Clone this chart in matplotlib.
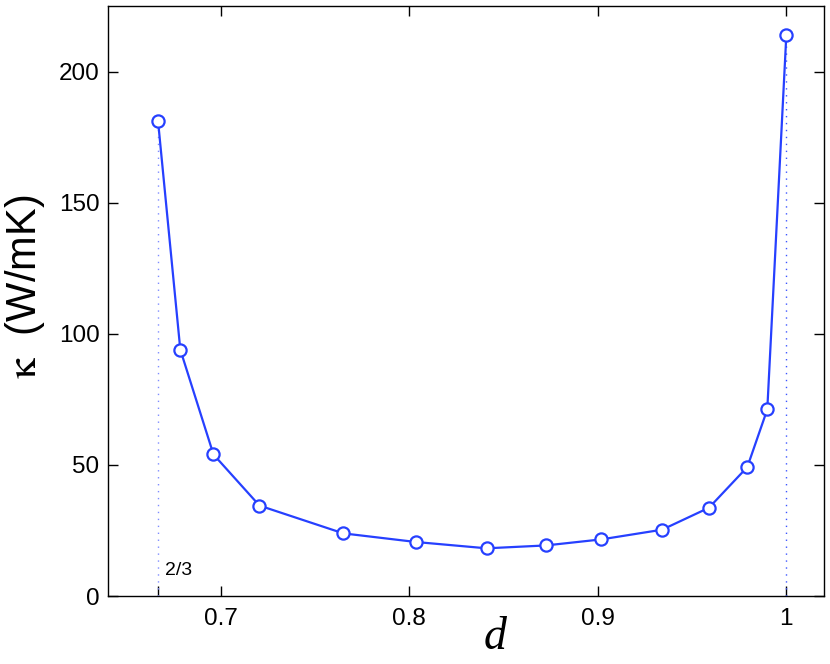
import matplotlib
matplotlib.use("Agg")
import matplotlib.pyplot as plt

plt.rcParams['font.family'] = ['Liberation Sans', 'DejaVu Sans']
plt.rcParams['mathtext.fontset'] = 'stix'

# donnees
d = [2/3, 0.6785, 0.6961, 0.7205, 0.7650, 0.8036, 0.8410, 0.8725,
     0.9018, 0.9341, 0.9590, 0.9793, 0.9899, 1.0]
kappa = [181.4, 94.0, 54.0, 34.5, 23.9, 20.6, 18.2, 19.3,
         21.6, 25.3, 33.7, 49.2, 71.2, 214.0]
xticks = [0.7, 0.8, 0.9, 1.0]
xtick_labels = ['0.7', '0.8', '0.9', '1']
yticks = [0, 50, 100, 150, 200]

blue = '#2640ff'

fig = plt.figure(figsize=(8.3, 6.64), dpi=100)
ax = fig.add_axes([0.1298, 0.1024, 0.8630, 0.888])

# lignes pointillees aux bornes
ax.plot([d[0], d[0]], [0, kappa[0]], color='#7f8cff', lw=1.0,
        linestyle=(0, (1, 4)))
ax.plot([d[-1], d[-1]], [0, kappa[-1]], color='#3d55ff', lw=1.0,
        linestyle=(0, (1, 4)))

ax.plot(d, kappa, '-o', color=blue, lw=1.6, ms=8.8,
        mfc='white', mec=blue, mew=1.6)

ax.text(d[0] + 0.0038, 6.5, '2/3', fontsize=14, ha='left', va='bottom')

ax.set_xlim(0.64, 1.02)
ax.set_ylim(0, 225)
ax.set_xticks(xticks)
ax.set_xticklabels(xtick_labels)
ax.set_xticks([2/3], minor=True)
ax.set_yticks(yticks)

ax.tick_params(which='major', direction='in', length=7, width=1,
               top=True, right=True, labelsize=17.5, pad=8.5)
ax.tick_params(which='minor', direction='in', length=7, width=1,
               top=False, bottom=True)
ax.tick_params(axis='y', pad=6)
for s in ax.spines.values():
    s.set_linewidth(1.0)

ax.set_xlabel('d', fontsize=33, family='Liberation Serif', style='italic')
ax.xaxis.set_label_coords(0.541, -0.035)
ax.set_ylabel(r'$\mathrm{\kappa}$  (W/mK)', fontsize=30)
ax.yaxis.set_label_coords(-0.085, 0.525)

fig.savefig('out.png', dpi=100)
